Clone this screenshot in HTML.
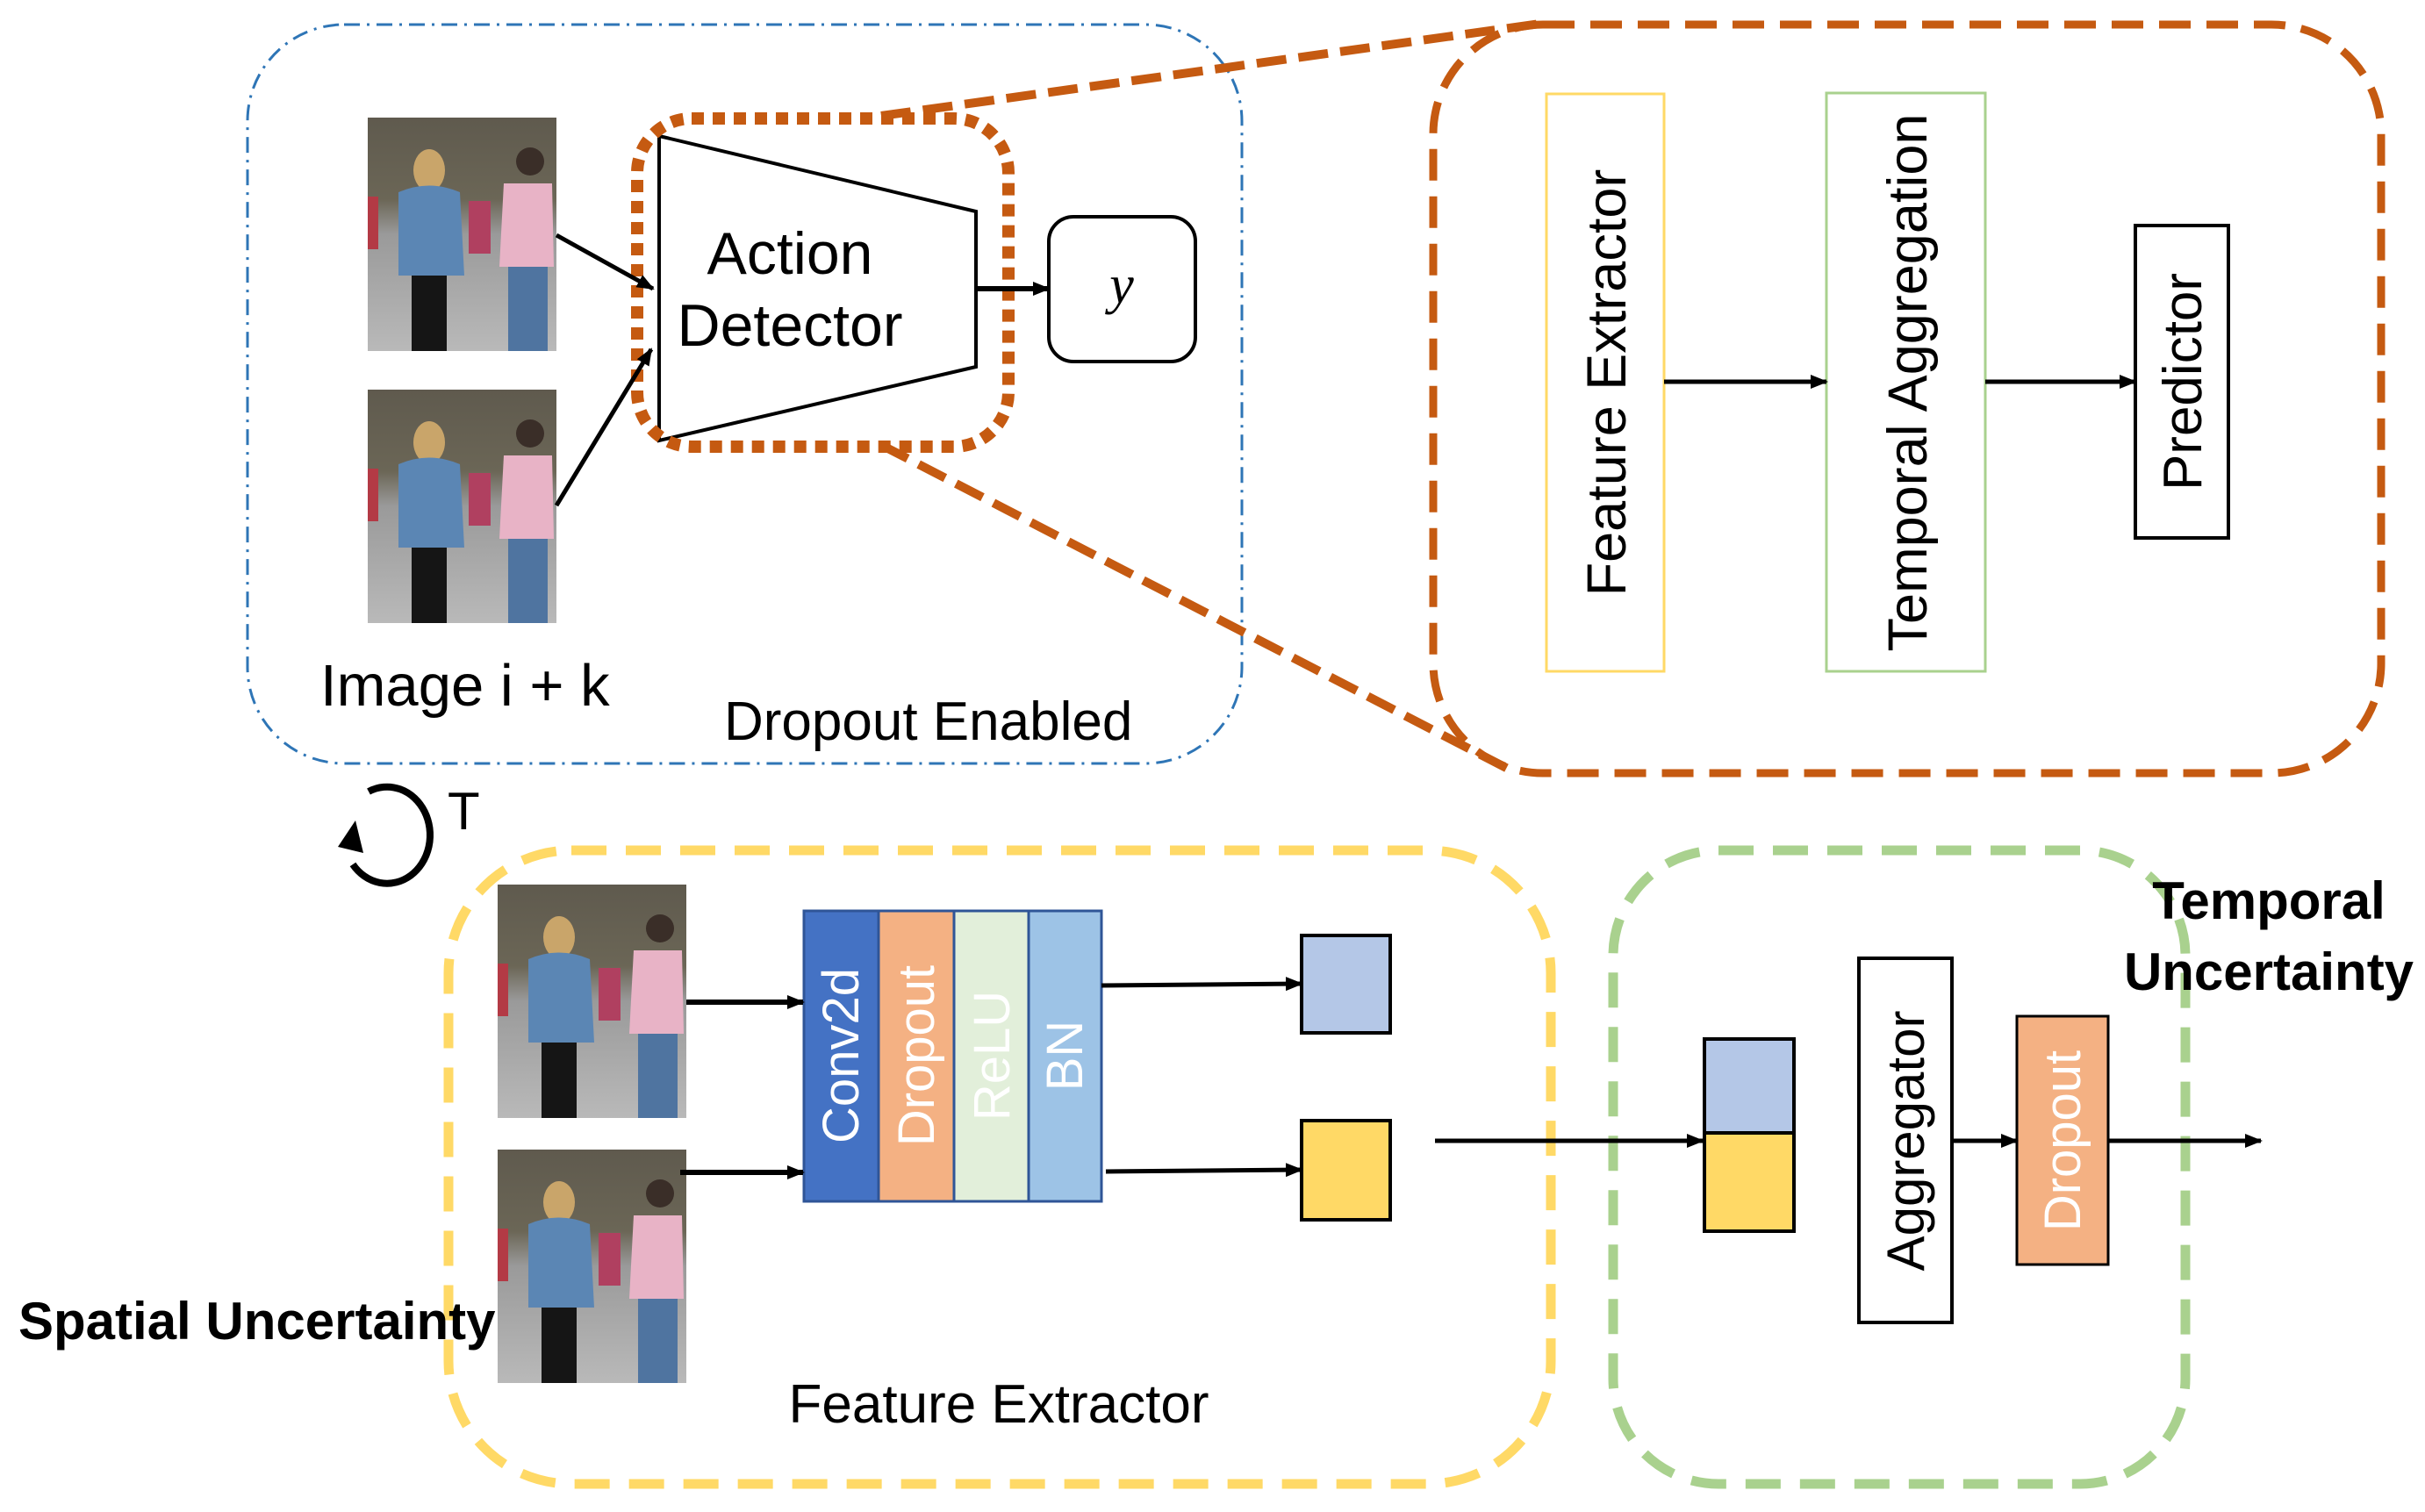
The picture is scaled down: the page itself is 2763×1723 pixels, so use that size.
<!DOCTYPE html>
<html><head><meta charset="utf-8"><style>
html,body{margin:0;padding:0;background:#fff}
svg{display:block;font-family:"Liberation Sans",sans-serif}
</style></head><body>
<svg width="2763" height="1723" viewBox="0 0 2763 1723" xmlns="http://www.w3.org/2000/svg">
<defs>
<marker id="ah" markerWidth="20" markerHeight="16" refX="18" refY="8" orient="auto" markerUnits="userSpaceOnUse">
<path d="M0,0 L20,8 L0,16 z" fill="#000"/></marker>
<linearGradient id="bg" x1="0" y1="0" x2="0" y2="1">
<stop offset="0" stop-color="#5f5a4e"/><stop offset="0.35" stop-color="#6b6656"/><stop offset="0.5" stop-color="#9a9a9a"/><stop offset="1" stop-color="#b9b9b9"/></linearGradient>
<g id="photo">
<rect x="0" y="0" width="215" height="266" fill="url(#bg)"/>
<rect x="0" y="90" width="12" height="60" fill="#b33a45"/>
<ellipse cx="70" cy="60" rx="18" ry="24" fill="#c9a56a"/>
<path d="M35,85 Q70,70 105,85 L110,180 L35,180 z" fill="#5b86b4"/>
<rect x="50" y="180" width="40" height="86" fill="#151515"/>
<rect x="115" y="95" width="25" height="60" fill="#b04060"/>
<circle cx="185" cy="50" r="16" fill="#3a2e28"/>
<path d="M155,75 L210,75 L212,170 L150,170 z" fill="#e8b3c6"/>
<rect x="160" y="170" width="45" height="96" fill="#4f74a0"/>
</g>
</defs>

<rect x="282" y="28" width="1133" height="842" rx="110" fill="none" stroke="#2e75b6" stroke-width="3" stroke-dasharray="18,8,3,8"/>
<use href="#photo" x="419" y="134"/>
<use href="#photo" x="419" y="444"/>

<line x1="1004" y1="132" x2="1762" y2="26" stroke="#c55a11" stroke-width="10" stroke-dasharray="34,14"/>
<line x1="1004" y1="507" x2="1718" y2="876" stroke="#c55a11" stroke-width="10" stroke-dasharray="34,14"/>

<polygon points="751,155 1112,241 1112,418 751,502" fill="#fff" stroke="#000" stroke-width="4"/>
<rect x="726" y="135" width="423" height="374" rx="62" fill="none" stroke="#c55a11" stroke-width="14" stroke-dasharray="14,10"/>
<text x="900" y="312" font-size="68" text-anchor="middle">Action</text>
<text x="900" y="394" font-size="68" text-anchor="middle">Detector</text>
<line x1="634" y1="268" x2="744" y2="329" stroke="#000" stroke-width="5" marker-end="url(#ah)"/>
<line x1="634" y1="576" x2="742" y2="398" stroke="#000" stroke-width="5" marker-end="url(#ah)"/>
<line x1="1112" y1="329" x2="1195" y2="329" stroke="#000" stroke-width="6" marker-end="url(#ah)"/>
<rect x="1195" y="247" width="167" height="165" rx="28" fill="#fff" stroke="#000" stroke-width="4"/>
<text x="1278" y="345" font-size="62" font-style="italic" font-family="Liberation Serif,serif" text-anchor="middle">y</text>
<text x="365" y="804" font-size="67">Image i + k</text>
<text x="825" y="843" font-size="62">Dropout Enabled</text>

<rect x="1633" y="28" width="1080" height="853" rx="125" fill="none" stroke="#c55a11" stroke-width="9" stroke-dasharray="36,18"/>
<rect x="1762" y="107" width="134" height="658" fill="#fff" stroke="#ffd966" stroke-width="3"/>
<rect x="2081" y="106" width="181" height="659" fill="#fff" stroke="#a9d18e" stroke-width="3"/>
<rect x="2433" y="257" width="106" height="356" fill="#fff" stroke="#000" stroke-width="4"/>
<text transform="translate(1852,436) rotate(-90)" font-size="63" text-anchor="middle">Feature Extractor</text>
<text transform="translate(2195,436) rotate(-90)" font-size="63" text-anchor="middle">Temporal Aggregation</text>
<text transform="translate(2508,435) rotate(-90)" font-size="62" text-anchor="middle">Predictor</text>
<line x1="1896" y1="435" x2="2081" y2="435" stroke="#000" stroke-width="5" marker-end="url(#ah)"/>
<line x1="2262" y1="435" x2="2433" y2="435" stroke="#000" stroke-width="5" marker-end="url(#ah)"/>

<path d="M420,902 A49,55 0 1 1 402,985" fill="none" stroke="#000" stroke-width="8"/>
<path d="M385,965 L405,935 L414,972 z" fill="#000"/>
<text x="510" y="945" font-size="60">T</text>

<rect x="511" y="969" width="1256" height="722" rx="140" fill="none" stroke="#ffd966" stroke-width="11" stroke-dasharray="40,22"/>
<rect x="1838" y="969" width="652" height="722" rx="120" fill="none" stroke="#a9d18e" stroke-width="11" stroke-dasharray="40,22"/>

<use href="#photo" x="567" y="1008"/>
<use href="#photo" x="567" y="1310"/>

<rect x="916" y="1038" width="85" height="331" fill="#4472c4"/>
<rect x="1001" y="1038" width="86" height="331" fill="#f4b183"/>
<rect x="1087" y="1038" width="85" height="331" fill="#e2efda"/>
<rect x="1172" y="1038" width="83" height="331" fill="#9dc3e6"/>
<g stroke="#2f5597" stroke-width="3" fill="none">
<rect x="916" y="1038" width="339" height="331"/>
<line x1="1001" y1="1038" x2="1001" y2="1369"/><line x1="1087" y1="1038" x2="1087" y2="1369"/><line x1="1172" y1="1038" x2="1172" y2="1369"/></g>
<g fill="#fff" font-size="58" text-anchor="middle">
<text transform="translate(978,1203) rotate(-90)">Conv2d</text>
<text transform="translate(1064,1203) rotate(-90)">Dropout</text>
<text transform="translate(1150,1203) rotate(-90)">ReLU</text>
<text transform="translate(1233,1203) rotate(-90)">BN</text>
</g>
<line x1="782" y1="1142" x2="915" y2="1142" stroke="#000" stroke-width="6" marker-end="url(#ah)"/>
<line x1="775" y1="1336" x2="915" y2="1336" stroke="#000" stroke-width="6" marker-end="url(#ah)"/>
<line x1="1255" y1="1123" x2="1483" y2="1121" stroke="#000" stroke-width="5" marker-end="url(#ah)"/>
<line x1="1260" y1="1335" x2="1483" y2="1333" stroke="#000" stroke-width="5" marker-end="url(#ah)"/>
<rect x="1483" y="1066" width="101" height="111" fill="#b4c7e7" stroke="#000" stroke-width="4"/>
<rect x="1483" y="1277" width="101" height="113" fill="#ffd966" stroke="#000" stroke-width="4"/>
<line x1="1635" y1="1300" x2="1940" y2="1300" stroke="#000" stroke-width="5" marker-end="url(#ah)"/>
<rect x="1942" y="1184" width="102" height="107" fill="#b4c7e7" stroke="#000" stroke-width="4"/>
<rect x="1942" y="1291" width="102" height="112" fill="#ffd966" stroke="#000" stroke-width="4"/>
<rect x="2118" y="1092" width="106" height="415" fill="#fff" stroke="#000" stroke-width="4"/>
<text transform="translate(2192,1300) rotate(-90)" font-size="60" text-anchor="middle">Aggregator</text>
<rect x="2298" y="1158" width="104" height="283" fill="#f4b183" stroke="#000" stroke-width="3"/>
<text transform="translate(2370,1300) rotate(-90)" font-size="58" fill="#fff" text-anchor="middle">Dropout</text>
<line x1="2224" y1="1300" x2="2298" y2="1300" stroke="#000" stroke-width="5" marker-end="url(#ah)"/>
<line x1="2402" y1="1300" x2="2576" y2="1300" stroke="#000" stroke-width="5" marker-end="url(#ah)"/>

<text x="2585" y="1047" font-size="60" font-weight="bold" text-anchor="middle">Temporal</text>
<text x="2585" y="1128" font-size="60" font-weight="bold" text-anchor="middle">Uncertainty</text>
<text x="21" y="1526" font-size="60" font-weight="bold">Spatial Uncertainty</text>
<text x="1138" y="1621" font-size="62" text-anchor="middle">Feature Extractor</text>
</svg>
</body></html>
